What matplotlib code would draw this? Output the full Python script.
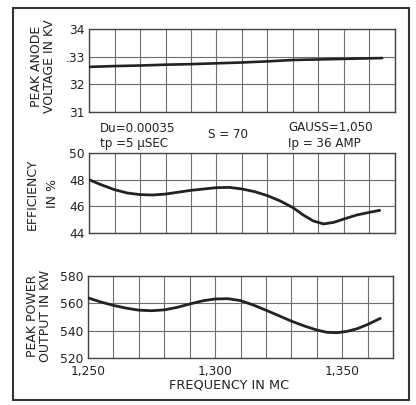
import matplotlib
matplotlib.use('Agg')
import matplotlib.pyplot as plt
from matplotlib.patches import Rectangle

# values
volt_freq = [1250, 1260, 1270, 1280, 1290, 1300, 1310, 1320, 1330, 1340, 1350, 1360, 1365]
volt_kv = [32.63, 32.66, 32.68, 32.71, 32.73, 32.76, 32.79, 32.83, 32.88, 32.90, 32.92, 32.94, 32.95]

eff_freq = [1250, 1255, 1260, 1265, 1270, 1275, 1280, 1290, 1300, 1305, 1310, 1315, 1320, 1325,
            1330, 1334, 1338, 1342, 1346, 1350, 1355, 1360, 1364]
eff_pct = [48.0, 47.6, 47.25, 47.0, 46.88, 46.85, 46.92, 47.2, 47.4, 47.42, 47.3, 47.1, 46.8, 46.4,
           45.9, 45.35, 44.9, 44.68, 44.8, 45.05, 45.35, 45.55, 45.7]

pow_freq = [1250, 1255, 1260, 1265, 1270, 1275, 1280, 1285, 1290, 1295, 1300, 1305, 1310, 1315,
            1320, 1325, 1330, 1335, 1340, 1344, 1348, 1352, 1356, 1360, 1365]
pow_kw = [564, 561, 558.5, 556.5, 555, 554.6, 555.2, 557, 559.5, 561.8, 563.2, 563.4, 562, 558.8,
          555, 551, 547, 543.5, 540.5, 538.8, 538.5, 539.5, 541.5, 544.5, 549]

volt_ticks = [31, 32, 33, 34]
volt_ticklabels = ['31', '32', '.33', '34']
eff_ticks = [44, 46, 48, 50]
pow_ticks = [520, 540, 560, 580]
freq_grid = list(range(1250, 1371, 10))
freq_labels = {1250: '1,250', 1300: '1,300', 1350: '1,350'}

ink = '#222222'
gridc = '#6e6e6e'

fig = plt.figure(figsize=(4.16, 4.05), dpi=100)
fig.patch.set_facecolor('white')

ax_v = fig.add_axes([89/416, 1-112/405, 306/416, 83/405])
ax_e = fig.add_axes([89/416, 1-233/405, 306/416, 80/405])
ax_p = fig.add_axes([88/416, 1-358/405, 305/416, 82/405])

ax_v.plot(volt_freq, volt_kv, color=ink, lw=1.9, solid_capstyle='round', zorder=5)
ax_e.plot(eff_freq, eff_pct, color=ink, lw=2.0, solid_joinstyle='round', solid_capstyle='round', zorder=5)
ax_p.plot(pow_freq, pow_kw, color=ink, lw=2.0, solid_joinstyle='round', solid_capstyle='round', zorder=5)

for a, yt, yl in [(ax_v, volt_ticks, volt_ticklabels), (ax_e, eff_ticks, [str(t) for t in eff_ticks]),
                  (ax_p, pow_ticks, [str(t) for t in pow_ticks])]:
    a.set_xlim(1250, 1370)
    a.set_ylim(yt[0], yt[-1])
    a.set_yticks(yt)
    a.set_yticklabels(yl, fontsize=8.8, color=ink)
    a.set_xticks(freq_grid)
    a.set_xticklabels([])
    a.tick_params(length=0, pad=3)
    a.grid(True, color=gridc, lw=0.8)
    a.set_axisbelow(True)
    for s in a.spines.values():
        s.set_color('#444444')
        s.set_linewidth(1.0)

ax_p.set_xticklabels([freq_labels.get(f, '') for f in freq_grid], fontsize=8.8, color=ink)
ax_p.tick_params(axis='x', pad=5)
fig.text(229/416, 1-385/405, 'FREQUENCY IN MC', ha='center', va='center', fontsize=9.3, color=ink)

# y axis titles
fig.text(43/416, 1-66/405, 'PEAK ANODE\nVOLTAGE IN KV', rotation=90, ha='center', va='center',
         fontsize=9, color=ink, linespacing=1.0)
fig.text(42/416, 1-194/405, 'EFFICIENCY\nIN %', rotation=90, ha='center', va='center',
         fontsize=9, color=ink, linespacing=1.7)
fig.text(39/416, 1-316/405, 'PEAK POWER\nOUTPUT IN KW', rotation=90, ha='center', va='center',
         fontsize=9, color=ink, linespacing=1.0)

# operating conditions
fig.text(100/416, 1-128/405, 'Du=0.00035', ha='left', va='center', fontsize=8.6, color=ink)
fig.text(100/416, 1-144/405, 'tp =5 \u03bcSEC', ha='left', va='center', fontsize=8.6, color=ink)
fig.text(208/416, 1-135/405, 'S = 70', ha='left', va='center', fontsize=8.6, color=ink)
fig.text(288/416, 1-128/405, 'GAUSS=1,050', ha='left', va='center', fontsize=8.6, color=ink)
fig.text(288/416, 1-144/405, 'Ip = 36 AMP', ha='left', va='center', fontsize=8.6, color=ink)

# outer frame
fig.patches.append(Rectangle((13/416, 1-400/405), 396/416, 392/405, transform=fig.transFigure,
                             fill=False, edgecolor='#333333', lw=1.5))

fig.savefig('out.png', dpi=100, facecolor='white')
